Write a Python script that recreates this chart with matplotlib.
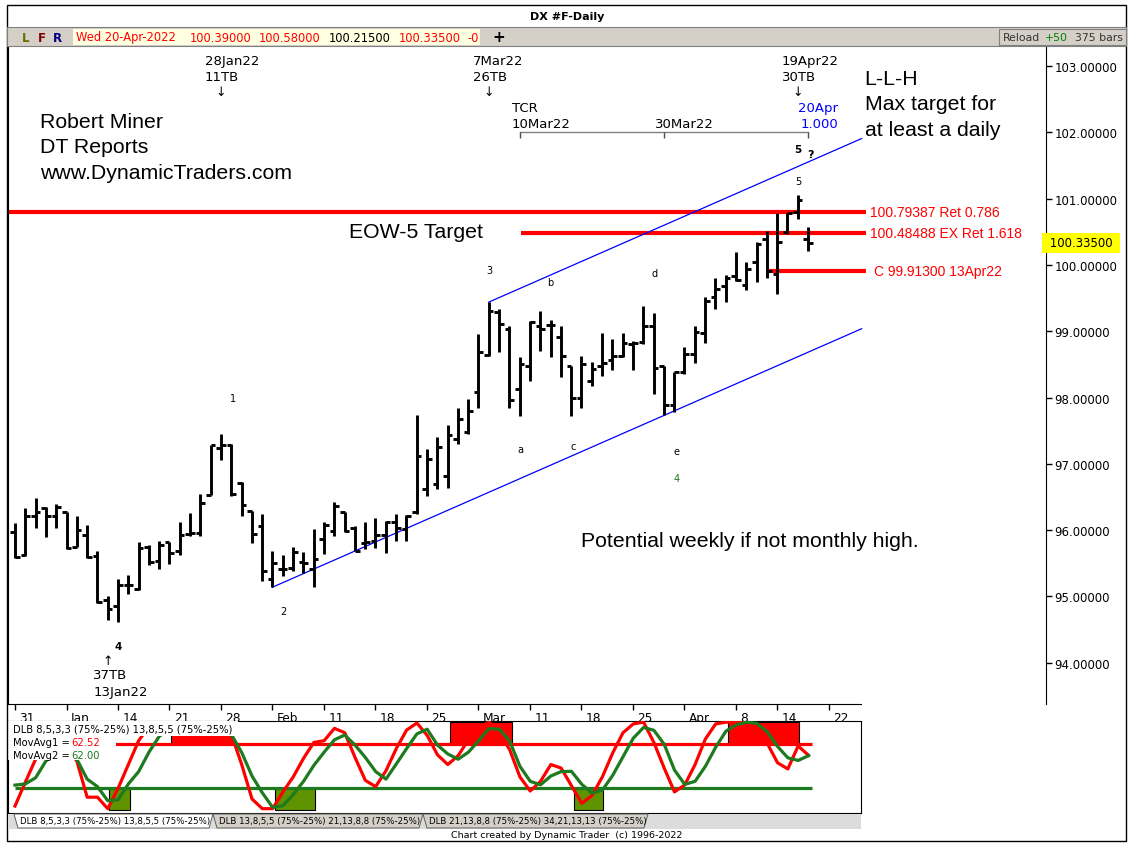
import numpy as np
import matplotlib
matplotlib.use('Agg')
import matplotlib.pyplot as plt
from matplotlib.patches import Rectangle, Polygon
from matplotlib.transforms import ScaledTranslation, blended_transform_factory

# --- 데이터: DX 일봉 31-Dec-2021 .. 20-Apr-2022 (bar 0..77) ---
opens = [95.97, 95.62, 96.22, 96.33, 96.22, 96.27, 95.75, 95.92, 95.61, 94.94,
         94.85, 95.17, 95.12, 95.74, 95.54, 95.82, 95.69, 95.94, 95.96, 96.53,
         97.24, 97.29, 96.71, 96.29, 96.07, 95.27, 95.41, 95.43, 95.52, 95.41,
         95.86, 95.99, 96.27, 96.04, 95.81, 95.84, 95.92, 96.13, 96.02, 96.27,
         96.62, 96.70, 96.82, 97.38, 97.48, 98.08, 98.64, 99.29, 99.03, 98.13,
         98.48, 99.08, 99.10, 98.92, 98.47, 98.00, 98.25, 98.48, 98.56, 98.62,
         98.81, 98.84, 99.08, 98.48, 97.89, 98.38, 98.66, 98.98, 99.51, 99.68,
         99.84, 99.70, 100.04, 100.39, 99.86, 100.49, 100.80, 100.39]
highs = [96.11, 96.33, 96.48, 96.35, 96.40, 96.27, 96.22, 96.08, 95.69, 95.01,
         95.26, 95.32, 95.82, 95.77, 95.84, 95.82, 96.13, 96.26, 96.55, 97.29,
         97.45, 97.30, 96.72, 96.29, 96.24, 95.69, 95.62, 95.74, 95.67, 96.02,
         96.13, 96.43, 96.28, 96.07, 96.12, 96.18, 96.14, 96.24, 96.23, 97.74,
         97.22, 97.40, 97.58, 97.85, 97.98, 98.96, 99.44, 99.33, 99.08, 98.61,
         99.16, 99.30, 99.17, 99.08, 98.47, 98.63, 98.54, 98.97, 98.88, 98.97,
         98.86, 99.38, 99.28, 98.48, 98.38, 98.76, 99.08, 99.51, 99.80, 99.85,
         100.20, 100.05, 100.34, 100.52, 100.79, 100.79, 101.05, 100.58]
lows = [95.58, 95.61, 96.04, 95.89, 96.04, 95.72, 95.74, 95.58, 94.90, 94.65,
        94.61, 95.04, 95.10, 95.48, 95.41, 95.49, 95.63, 95.91, 95.91, 96.53,
        97.06, 96.52, 96.22, 95.81, 95.24, 95.14, 95.31, 95.39, 95.36, 95.15,
        95.64, 95.91, 95.97, 95.68, 95.71, 95.73, 95.66, 95.83, 95.83, 96.25,
        96.51, 96.62, 96.63, 97.30, 97.45, 97.84, 98.63, 98.69, 97.85, 97.72,
        98.25, 98.71, 98.61, 98.31, 97.72, 97.85, 98.17, 98.32, 98.42, 98.61,
        98.42, 98.81, 98.05, 97.73, 97.78, 98.36, 98.52, 98.82, 99.33, 99.44,
        99.76, 99.63, 99.74, 99.81, 99.56, 100.47, 100.69, 100.215]
closes = [95.59, 96.22, 96.28, 96.21, 96.35, 95.73, 96.01, 95.59, 94.91, 94.81,
          95.17, 95.18, 95.73, 95.52, 95.77, 95.66, 95.92, 95.95, 96.41, 97.28,
          97.28, 96.55, 96.38, 95.94, 95.39, 95.51, 95.42, 95.67, 95.51, 95.57,
          96.08, 96.37, 95.99, 95.69, 95.82, 95.92, 96.13, 96.04, 96.22, 97.12,
          97.07, 97.25, 97.43, 97.68, 97.80, 98.68, 99.31, 99.11, 97.97, 98.51,
          99.14, 99.03, 99.09, 98.62, 98.00, 98.51, 98.43, 98.52, 98.63, 98.82,
          98.83, 99.08, 98.44, 97.89, 98.38, 98.66, 98.99, 99.45, 99.64, 99.80,
          99.78, 99.94, 100.32, 99.913, 100.34, 100.78, 100.98, 100.335]

# DLB 오실레이터 (빨강 = 빠른선, 초록 = 느린선)
fast_osc = [5, 32, 58, 75, 80, 72, 56, 15, 15, 2,
            25, 52, 79, 95, 100, 100, 100, 100, 100, 98,
            95, 86, 52, 13, 2, 2, 21, 38, 59, 77,
            79, 93, 88, 60, 34, 27, 45, 70, 91, 99,
            85, 63, 52, 62, 80, 93, 100, 87, 69, 38,
            22, 33, 52, 48, 28, 8, 17, 38, 65, 88,
            98, 100, 77, 48, 21, 29, 52, 81, 98, 100,
            100, 100, 88, 76, 54, 47, 73, 62.52]
slow_osc = [28.7, 30, 37, 56, 68, 70, 58, 35.5, 27, 11,
            12, 30, 44, 66, 84, 92, 97, 100, 100, 100,
            98, 86, 65.6, 39, 20, 3.5, 5.4, 18, 33, 51,
            66, 80, 85.5, 74, 60, 44, 35.5, 52.6, 70, 86.7,
            92, 74, 64, 58, 66, 79, 92.7, 92, 78.8, 50,
            33, 29, 39, 44, 44.3, 29.6, 19.8, 23, 39.7, 60.7,
            81.8, 94, 90.8, 75, 45.7, 29.5, 33, 50, 71.6, 89.9,
            97, 100, 98.7, 89, 72.5, 59.6, 56.6, 62.00]
ob_zones = [(15.1, 21.2), (42.2, 48.2), (69.2, 76.1)]   # 75 위
os_zones = [(9.1, 11.2), (25.2, 29.1), (54.2, 57.1)]    # 25 아래

tick_idx = [0, 5, 10, 15, 20, 25, 30, 35, 40, 45, 50, 55, 60, 65, 70, 74, 79]
tick_lab = ['31', 'Jan', '14', '21', '28', 'Feb', '11', '18', '25', 'Mar',
            '11', '18', '25', 'Apr', '8', '14', '22']

ret_786 = 100.79387
ex_1618 = 100.48488
c_level = 99.913

# 시간 목표 (bar, 날짜, TB)
time_marks = [(20, '28Jan22', '11TB'), (46, '7Mar22', '26TB'), (76, '19Apr22', '30TB')]
tcr_bars = [49, 63, 77]

# 파동 라벨 (x, y, 텍스트, 색)
wave_labels = [(21.2, 97.99, '1', 'black'), (26.1, 94.78, '2', 'black'),
               (46.1, 99.92, '3', 'black'), (64.2, 96.79, '4', '#1e7a1e'),
               (76.1, 101.27, '5', 'black'), (49.1, 97.22, 'a', 'black'),
               (52.0, 99.74, 'b', 'black'), (54.2, 97.27, 'c', 'black'),
               (62.1, 99.88, 'd', 'black'), (64.2, 97.19, 'e', 'black')]

LIB = ['Liberation Sans', 'DejaVu Sans']

# --- 그림 ---
W, H = 1128, 845
fig = plt.figure(figsize=(W / 100, H / 100), dpi=100)


def fx(x):
    return x / W


def fy(y):
    return 1 - y / H


def box(x0, y0, x1, y1, **kw):
    fig.patches.append(Rectangle((fx(x0), fy(y1)), (x1 - x0) / W, (y1 - y0) / H,
                                 transform=fig.transFigure, **kw))


def ptext(x, y, s, **kw):
    kw.setdefault('va', 'center')
    fig.text(fx(x), fy(y), s, **kw)


# 프레임과 툴바
box(7, 6, 1126, 842, fill=False, edgecolor='black', lw=1)
box(7, 28, 1126, 47, facecolor='#d4d0c8', edgecolor='#808080', lw=0.8)
box(73, 30, 480, 46, facecolor='#ffffe1', edgecolor='none')
box(999, 30, 1126, 46, facecolor='#d4d0c8', edgecolor='#808080', lw=0.8)
ptext(567, 17, 'DX #F-Daily', ha='center', fontsize=8, fontweight='bold')
ptext(26, 38, 'L', ha='center', fontsize=8.5, fontweight='bold', color='#6b6b00')
ptext(42, 38, 'F', ha='center', fontsize=8.5, fontweight='bold', color='#800000')
ptext(57, 38, 'R', ha='center', fontsize=8.5, fontweight='bold', color='#000080')
ptext(76, 38, 'Wed 20-Apr-2022', fontsize=8.3, color='red')
ptext(190, 38, f'{opens[-1]:.5f}', fontsize=8.3, color='red')
ptext(259, 38, f'{highs[-1]:.5f}', fontsize=8.3, color='red')
ptext(329, 38, f'{lows[-1]:.5f}', fontsize=8.3, color='black')
ptext(399, 38, f'{closes[-1]:.5f}', fontsize=8.3, color='red')
ptext(468, 38, '-0', fontsize=8.3, color='red')
ptext(492, 37, '+', fontsize=11, fontweight='bold')
ptext(1003, 38, 'Reload', fontsize=7.8, color='#333333')
ptext(1045, 38, '+50', fontsize=7.8, color='green')
ptext(1075, 38, '375 bars', fontsize=7.8, color='#333333')

# --- 가격 차트 ---
ax = fig.add_axes([fx(8), fy(705), (1046 - 8) / W, (705 - 48) / H])
x = np.arange(len(opens))

ax.hlines(ret_786, -0.68, 82.6, color='red', lw=3, zorder=2)
ax.hlines(ex_1618, 49.1, 82.6, color='red', lw=3, zorder=2)
ax.hlines(c_level, 73.1, 82.6, color='red', lw=3, zorder=2)
ax.text(83.0, ret_786, f'{ret_786:.5f} Ret 0.786', color='red', va='center',
        fontsize=10, family=LIB)
ax.text(83.0, ex_1618, f'{ex_1618:.5f} EX Ret 1.618', color='red', va='center',
        fontsize=10, family=LIB)
ax.text(83.4, c_level, f'C {c_level:.5f} 13Apr22', color='red', va='center',
        fontsize=10, family=LIB)

# 채널
slope = (lows[63] - lows[25]) / (63 - 25)
xl = np.array([25, 82.2])
xu = np.array([46, 82.2])
ax.plot(xl, lows[25] + slope * (xl - 25), color='blue', lw=0.9, zorder=2)
ax.plot(xu, highs[46] + slope * (xu - 46), color='blue', lw=0.9, zorder=2)

# OHLC 바
ax.vlines(x, lows, highs, color='black', lw=2.1, zorder=3)
ax.hlines(opens, x - 0.45, x, color='black', lw=2.1, zorder=3)
ax.hlines(closes, x, x + 0.45, color='black', lw=2.1, zorder=3)

# 시간 주석
for idx, d, tb in time_marks:
    ax.text(idx - 1.55, 103.09, d, va='center', fontsize=9.5)
    ax.text(idx - 1.55, 102.84, tb, va='center', fontsize=9.5)
    ax.text(idx, 102.62, '↓', ha='center', va='center', fontsize=9)
ax.text(9, 94.04, '↑', ha='center', va='center', fontsize=9)
ax.text(9 - 1.4, 93.82, '37TB', va='center', fontsize=9.5)
ax.text(9 - 1.4, 93.56, '13Jan22', va='center', fontsize=9.5)

ax.plot([tcr_bars[0], tcr_bars[-1]], [102.0, 102.0], color='#808080', lw=1)
ax.vlines(tcr_bars, 101.92, 102.0, color='#505050', lw=1)
ax.text(48.25, 102.37, 'TCR', va='center', fontsize=9.5)
ax.text(48.25, 102.14, '10Mar22', va='center', fontsize=9.5)
ax.text(62.1, 102.14, '30Mar22', va='center', fontsize=9.5)
ax.text(79.9, 102.37, '20Apr', ha='right', va='center', fontsize=9.5, color='blue')
ax.text(79.9, 102.14, '1.000', ha='right', va='center', fontsize=9.5, color='blue')

for wx, wy, s, c in wave_labels:
    ax.text(wx, wy, s, ha='center', va='center', fontsize=7, color=c)
ax.text(76.0, 101.75, '5', ha='center', va='center', fontsize=7.5, fontweight='bold')
ax.text(77.2, 101.67, '?', ha='center', va='center', fontsize=8, fontweight='bold')
ax.text(10.0, 94.25, '4', ha='center', va='center', fontsize=7.5, fontweight='bold')

# 큰 글씨
big = dict(fontsize=15.3, family=LIB, va='center')
ax.text(2.43, 102.16, 'Robert Miner', **big)
ax.text(2.43, 101.78, 'DT Reports', **big)
ax.text(2.43, 101.40, 'www.DynamicTraders.com', **big)
ax.text(32.4, 100.50, 'EOW-5 Target', **big)
ax.text(82.5, 102.82, 'L-L-H', **big)
ax.text(82.5, 102.44, 'Max target for', **big)
ax.text(82.5, 102.05, 'at least a daily', **big)
ax.text(54.95, 95.84, 'Potential weekly if not monthly high.', **big)

# 축
ax.set_xlim(-0.68, 100.1)
ax.set_ylim(93.378, 103.288)
ax.spines['top'].set_visible(False)
ax.spines['bottom'].set_bounds(-0.68, 82.1)
ax.yaxis.tick_right()
yt = list(range(94, 104))
ax.set_yticks(yt, [f'{v:.5f}' for v in yt])
ax.tick_params(axis='y', length=4, width=1, pad=2, labelsize=8.5)
ax.set_xticks(tick_idx, tick_lab)
ax.tick_params(axis='x', length=4, width=1, pad=1, labelsize=8.7)
for lab in ax.get_xticklabels():
    lab.set_ha('left')
    lab.set_transform(lab.get_transform() + ScaledTranslation(0.045, 0, fig.dpi_scale_trans))

trans = blended_transform_factory(ax.transAxes, ax.transData)
ax.text(1.0, closes[-1], f' {closes[-1]:.5f} ', transform=trans, ha='left', va='center',
        fontsize=8.5, clip_on=False, zorder=5,
        bbox=dict(boxstyle='square,pad=0.3', fc='yellow', ec='none'))

# --- DLB 패널 ---
ax2 = fig.add_axes([fx(8), fy(814), (861 - 8) / W, (814 - 722) / H])
ax2.set_xlim(-0.68, 82.1)
ax2.set_ylim(-2.9, 101.3)
ax2.set_xticks([])
ax2.set_yticks([])
for a, b in ob_zones:
    ax2.add_patch(Rectangle((a, 75), b - a, 25, fc='red', ec='black', lw=0.8, zorder=1))
for a, b in os_zones:
    ax2.add_patch(Rectangle((a, 0), b - a, 25, fc='#5f9400', ec='black', lw=0.8, zorder=1))
ax2.hlines(75, 0, 77.3, color='red', lw=2.3, zorder=2)
ax2.hlines(25, 0, 77.3, color='#1e7a1e', lw=2.3, zorder=2)
ax2.plot(x, fast_osc, color='red', lw=2.3, zorder=3)
ax2.plot(x, slow_osc, color='#1e7a1e', lw=2.3, zorder=3)
ax2.add_patch(Rectangle((-0.68, 84.5), 22.3, 20, fc='white', ec='none', zorder=4))
ax2.add_patch(Rectangle((-0.68, 57), 10.48, 30, fc='white', ec='none', zorder=4))
ax2.text(-0.2, 93, 'DLB 8,5,3,3 (75%-25%) 13,8,5,5 (75%-25%)', fontsize=7.2,
         va='center', zorder=5)
ax2.text(-0.2, 77.3, 'MovAvg1 =', fontsize=7.2, va='center', zorder=5)
ax2.text(5.45, 77.3, f'{fast_osc[-1]:.2f}', fontsize=7.2, va='center', color='red', zorder=5)
ax2.text(-0.2, 62.6, 'MovAvg2 =', fontsize=7.2, va='center', zorder=5)
ax2.text(5.45, 62.6, f'{slow_osc[-1]:.2f}', fontsize=7.2, va='center', color='#1e7a1e',
         zorder=5)

# 탭
box(8, 815, 861, 830, facecolor='#dcdcdc', edgecolor='none')
tabs = [(14, 213, '#ffffff', 'DLB 8,5,3,3 (75%-25%) 13,8,5,5 (75%-25%)'),
        (213, 423, '#d4d0c8', 'DLB 13,8,5,5 (75%-25%) 21,13,8,8 (75%-25%)'),
        (423, 648, '#d4d0c8', 'DLB 21,13,8,8 (75%-25%) 34,21,13,13 (75%-25%)')]
for t0, t1, c, s in tabs:
    pts = [(fx(t0), fy(815)), (fx(t1), fy(815)), (fx(t1 - 4), fy(829)), (fx(t0 + 4), fy(829))]
    fig.patches.append(Polygon(pts, closed=True, transform=fig.transFigure,
                               fc=c, ec='#606060', lw=0.7))
    ptext(t0 + 6, 822, s, fontsize=6.2)
ptext(567, 836, 'Chart created by Dynamic Trader  (c) 1996-2022', ha='center', fontsize=6.8)

fig.savefig('out.png', dpi=100)
